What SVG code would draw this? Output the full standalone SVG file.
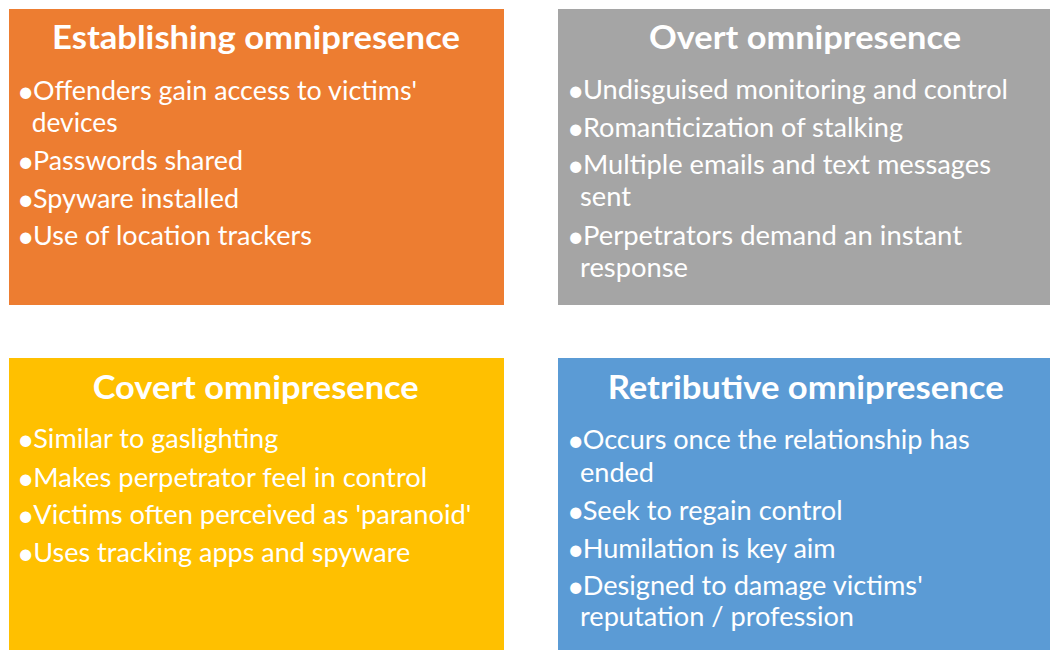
<svg xmlns="http://www.w3.org/2000/svg" width="1050" height="650" viewBox="0 0 1050 650">
<style>
.t{font-family:Lato,"Open Sans","Liberation Sans",sans-serif;font-weight:bold;font-size:32px;fill:#fff}
.b{font-family:Lato,"Open Sans","Liberation Sans",sans-serif;font-size:27.5px;fill:#fff}
.d{font-size:30px}
</style>
<rect width="1050" height="650" fill="#fff"/>
<g id="establishing">
<rect x="9" y="9" width="495" height="296" fill="#ED7D31"/>
<text class="t" x="52" y="48.5" textLength="408" lengthAdjust="spacingAndGlyphs">Establishing omnipresence</text>
<text class="b"><tspan class="d" x="17" y="102">•</tspan><tspan x="33" y="100" textLength="384" lengthAdjust="spacingAndGlyphs">Offenders gain access to victims'</tspan></text>
<text class="b" x="31.7" y="131.7" textLength="86" lengthAdjust="spacingAndGlyphs">devices</text>
<text class="b"><tspan class="d" x="17" y="172">•</tspan><tspan x="33" y="170" textLength="210" lengthAdjust="spacingAndGlyphs">Passwords shared</tspan></text>
<text class="b"><tspan class="d" x="17" y="209.5">•</tspan><tspan x="33" y="207.5" textLength="206" lengthAdjust="spacingAndGlyphs">Spyware installed</tspan></text>
<text class="b"><tspan class="d" x="17" y="247">•</tspan><tspan x="33" y="245" textLength="279" lengthAdjust="spacingAndGlyphs">Use of location trackers</tspan></text>
</g>
<g id="overt">
<rect x="558" y="9" width="492" height="296" fill="#A5A5A5"/>
<text class="t" x="649" y="48.5" textLength="312" lengthAdjust="spacingAndGlyphs">Overt omnipresence</text>
<text class="b"><tspan class="d" x="567" y="101.3">•</tspan><tspan x="583" y="99.3" textLength="425" lengthAdjust="spacingAndGlyphs">Undisguised monitoring and control</tspan></text>
<text class="b"><tspan class="d" x="567" y="138.7">•</tspan><tspan x="583" y="136.7" textLength="320" lengthAdjust="spacingAndGlyphs">Romanticization of stalking</tspan></text>
<text class="b"><tspan class="d" x="567" y="176.3">•</tspan><tspan x="583" y="174.3" textLength="408" lengthAdjust="spacingAndGlyphs">Multiple emails and text messages</tspan></text>
<text class="b" x="580" y="206" textLength="51" lengthAdjust="spacingAndGlyphs">sent</text>
<text class="b"><tspan class="d" x="567" y="247">•</tspan><tspan x="583" y="245" textLength="379" lengthAdjust="spacingAndGlyphs">Perpetrators demand an instant</tspan></text>
<text class="b" x="580" y="276.7" textLength="108" lengthAdjust="spacingAndGlyphs">response</text>
</g>
<g id="covert">
<rect x="9" y="358" width="495" height="292" fill="#FFC000"/>
<text class="t" x="92.7" y="399.3" textLength="326" lengthAdjust="spacingAndGlyphs">Covert omnipresence</text>
<text class="b"><tspan class="d" x="17" y="450.3">•</tspan><tspan x="33.3" y="448.3" textLength="245" lengthAdjust="spacingAndGlyphs">Similar to gaslighting</tspan></text>
<text class="b"><tspan class="d" x="17" y="488.7">•</tspan><tspan x="33.3" y="486.7" textLength="394" lengthAdjust="spacingAndGlyphs">Makes perpetrator feel in control</tspan></text>
<text class="b"><tspan class="d" x="17" y="526">•</tspan><tspan x="33.3" y="524" textLength="438" lengthAdjust="spacingAndGlyphs">Victims often perceived as 'paranoid'</tspan></text>
<text class="b"><tspan class="d" x="17" y="563.7">•</tspan><tspan x="33.3" y="561.7" textLength="377" lengthAdjust="spacingAndGlyphs">Uses tracking apps and spyware</tspan></text>
</g>
<g id="retributive">
<rect x="558" y="358" width="492" height="292" fill="#5B9BD5"/>
<text class="t" x="607.7" y="399.3" textLength="396" lengthAdjust="spacingAndGlyphs">Retributive omnipresence</text>
<text class="b"><tspan class="d" x="567" y="451.3">•</tspan><tspan x="582.7" y="449.3" textLength="387" lengthAdjust="spacingAndGlyphs">Occurs once the relationship has</tspan></text>
<text class="b" x="580" y="481.7" textLength="74" lengthAdjust="spacingAndGlyphs">ended</text>
<text class="b"><tspan class="d" x="567" y="522">•</tspan><tspan x="582.7" y="520" textLength="260" lengthAdjust="spacingAndGlyphs">Seek to regain control</tspan></text>
<text class="b"><tspan class="d" x="567" y="560.3">•</tspan><tspan x="582.7" y="558.3" textLength="253" lengthAdjust="spacingAndGlyphs">Humilation is key aim</tspan></text>
<text class="b"><tspan class="d" x="567" y="597">•</tspan><tspan x="582.7" y="595" textLength="340" lengthAdjust="spacingAndGlyphs">Designed to damage victims'</tspan></text>
<text class="b" x="580" y="626" textLength="274" lengthAdjust="spacingAndGlyphs">reputation / profession</text>
</g>
<g id="connectors"/>
</svg>
